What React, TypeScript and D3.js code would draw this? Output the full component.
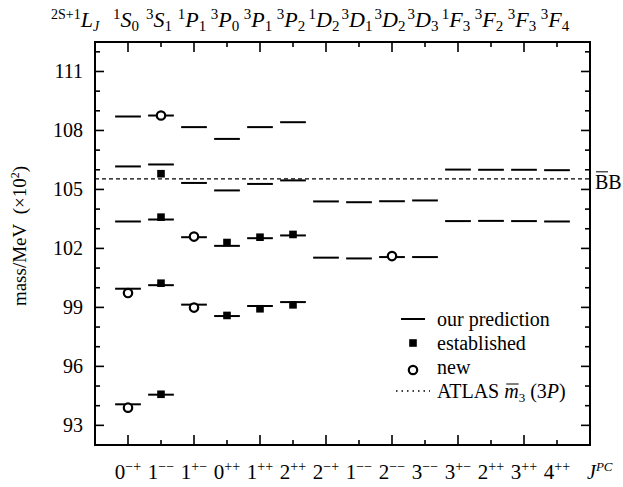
import { useRef, useLayoutEffect, useState } from "react";
import * as d3 from "d3";

// spectroscopic labels, one per column
const spinMult = ["1", "3", "1", "3", "3", "3", "1", "3", "3", "3", "1", "3", "3", "3"];
const orbital = ["S", "S", "P", "P", "P", "P", "D", "D", "D", "D", "F", "F", "F", "F"];
const totalJ = ["0", "1", "1", "0", "1", "2", "2", "1", "2", "3", "3", "2", "3", "4"];
const parityC = ["−+", "−−", "+−", "++", "++", "++", "−+", "−−", "−−", "−−", "+−", "++", "++", "++"];

// predicted masses (x100 MeV) per column
const predicted = [
  [94.07, 99.95, 103.37, 106.17, 108.71],
  [94.56, 100.13, 103.47, 106.27, 108.76],
  [99.14, 102.57, 105.33, 108.17],
  [98.56, 102.13, 104.95, 107.57],
  [99.07, 102.52, 105.28, 108.17],
  [99.27, 102.66, 105.46, 108.42],
  [101.53, 104.39],
  [101.49, 104.35],
  [101.56, 104.4],
  [101.56, 104.44],
  [103.39, 106.01],
  [103.4, 106.0],
  [103.39, 106.0],
  [103.37, 105.98],
];

// [column, mass]
const established = [
  [1, 94.58], [1, 100.23], [1, 103.59], [1, 105.8],
  [3, 98.59], [3, 102.3],
  [4, 98.93], [4, 102.57],
  [5, 99.13], [5, 102.71],
];
const newStates = [
  [0, 93.9], [0, 99.73], [1, 108.76], [2, 98.99], [2, 102.6], [8, 101.61],
];

const bbThreshold = 105.54;
const majorTicks = [93, 96, 99, 102, 105, 108, 111];
const minorTicks = d3.range(92, 113);

const W = 623;
const H = 487;
const left = 95, right = 590, top = 42, bottom = 445;
const font = "'Liberation Serif', 'DejaVu Serif', serif";

export default function App() {
  const x = d3.scaleLinear().domain([-1, 14]).range([left, right]);
  const y = d3.scaleLinear().domain([92, 112.5]).range([bottom, top]);
  const halfW = 0.39;
  const cols = d3.range(orbital.length);

  // overline over the italic m in the legend, placed from the glyph box
  const mRef = useRef<SVGTSpanElement>(null);
  const [bar, setBar] = useState<[number, number, number] | null>(null);
  useLayoutEffect(() => {
    if (mRef.current) {
      const b = mRef.current.getBBox();
      setBar([b.x + 2, b.x + b.width, b.y + 4]);
    }
  }, []);

  return (
    <svg
      width={W}
      height={H}
      style={{ position: "absolute", left: 0, top: 0, background: "#fff", fontFamily: font }}
    >
      {/* frame */}
      <rect x={left} y={top} width={right - left} height={bottom - top} fill="none" stroke="#000" strokeWidth={2} />

      {/* y ticks left + right */}
      {minorTicks.map((v) => {
        const len = majorTicks.includes(v) ? 9 : 5;
        return (
          <g key={"yt" + v} stroke="#000" strokeWidth={1.6}>
            <line x1={left} x2={left + len} y1={y(v)} y2={y(v)} />
            <line x1={right} x2={right - len} y1={y(v)} y2={y(v)} />
          </g>
        );
      })}
      {majorTicks.map((v) => (
        <text key={"yl" + v} x={83} y={y(v) + 7} textAnchor="end" fontSize={20}>
          {v}
        </text>
      ))}

      {/* x ticks bottom + top */}
      {cols.map((i) => {
        const len = i % 2 === 0 ? 10 : 5;
        return (
          <g key={"xt" + i} stroke="#000" strokeWidth={1.6}>
            <line x1={x(i)} x2={x(i)} y1={bottom} y2={bottom - len} />
            <line x1={x(i)} x2={x(i)} y1={top} y2={top + len} />
          </g>
        );
      })}

      {/* bottom J^PC labels */}
      {cols.map((i) => (
        <text key={"jpc" + i} x={x(i)} y={479} textAnchor="middle" fontSize={21}>
          {totalJ[i]}
          <tspan fontSize={14} dy={-8}>{parityC[i]}</tspan>
        </text>
      ))}
      <text x={587} y={479} fontSize={20} fontStyle="italic">
        J<tspan fontSize={13} dy={-8}>PC</tspan>
      </text>

      {/* top 2S+1 L_J labels */}
      {cols.map((i) => (
        <text key={"st" + i} x={x(i) - 2} y={27} textAnchor="middle" fontSize={22}>
          <tspan fontSize={15} dy={-8}>{spinMult[i]}</tspan>
          <tspan fontStyle="italic" dy={8}>{orbital[i]}</tspan>
          <tspan fontSize={15} dy={4}>{totalJ[i]}</tspan>
        </text>
      ))}
      <text x={51} y={27} fontSize={22}>
        <tspan fontSize={14} dy={-8}>2S+1</tspan>
        <tspan fontStyle="italic" dy={8}>L</tspan>
        <tspan fontSize={14} fontStyle="italic" dy={4}>J</tspan>
      </text>

      {/* y axis title */}
      <text transform="translate(26, 236) rotate(-90)" textAnchor="middle" fontSize={19}>
        mass/MeV{"\u00a0\u00a0"}(×10<tspan fontSize={12} dy={-7}>2</tspan>
        <tspan dy={7}>)</tspan>
      </text>

      {/* BB threshold */}
      <line
        x1={left}
        x2={right}
        y1={y(bbThreshold)}
        y2={y(bbThreshold)}
        stroke="#000"
        strokeWidth={1.3}
        strokeDasharray="4,3"
      />
      <text x={595} y={y(bbThreshold) + 10} fontSize={20}>BB</text>
      <line x1={596} x2={608} y1={y(bbThreshold) - 7} y2={y(bbThreshold) - 7} stroke="#000" strokeWidth={1} />

      {/* predicted levels */}
      {predicted.map((levels, i) =>
        levels.map((m, k) => (
          <line
            key={`p${i}-${k}`}
            x1={x(i - halfW)}
            x2={x(i + halfW)}
            y1={y(m)}
            y2={y(m)}
            stroke="#000"
            strokeWidth={2}
          />
        ))
      )}

      {/* established */}
      {established.map(([c, m], k) => (
        <rect key={"e" + k} x={x(c) - 3.8} y={y(m) - 3.8} width={7.6} height={7.6} fill="#000" />
      ))}

      {/* new */}
      {newStates.map(([c, m], k) => (
        <circle key={"n" + k} cx={x(c)} cy={y(m)} r={4.2} fill="#fff" stroke="#000" strokeWidth={2.2} />
      ))}

      {/* legend */}
      <g fontSize={20}>
        <line x1={401} x2={425} y1={319} y2={319} stroke="#000" strokeWidth={2} />
        <text x={437} y={326}>our prediction</text>
        <rect x={409.2} y={339.2} width={7.6} height={7.6} fill="#000" />
        <text x={437} y={350}>established</text>
        <circle cx={413} cy={370} r={4.2} fill="#fff" stroke="#000" strokeWidth={2.2} />
        <text x={437} y={374}>new</text>
        <line x1={396} x2={430} y1={391} y2={391} stroke="#000" strokeWidth={1.5} strokeDasharray="1.5,4" />
        <text x={437} y={398}>
          ATLAS{"\u00a0"}
          <tspan ref={mRef} fontStyle="italic">m</tspan>
          <tspan fontSize={13} dy={4}>3</tspan>
          <tspan dy={-4}>{"\u00a0"}(3</tspan>
          <tspan fontStyle="italic">P</tspan>)
        </text>
        {bar && <line x1={bar[0]} x2={bar[1]} y1={bar[2]} y2={bar[2]} stroke="#000" strokeWidth={1} />}
      </g>
    </svg>
  );
}
